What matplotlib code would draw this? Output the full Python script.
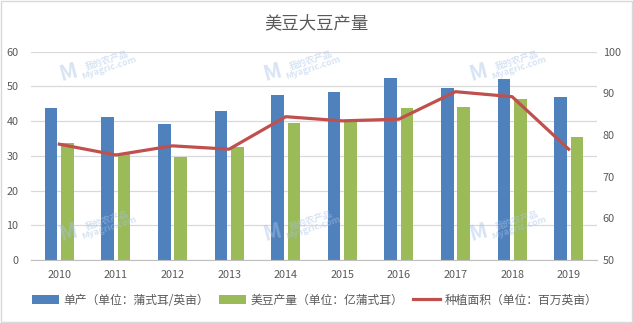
import numpy as np
import matplotlib.pyplot as plt
from matplotlib.patches import Rectangle

plt.rcParams['font.family'] = ['Noto Sans CJK SC', 'DejaVu Sans']

# data
years = ['2010', '2011', '2012', '2013', '2014', '2015', '2016', '2017', '2018', '2019']
yield_bu = [43.9, 41.3, 39.2, 43.0, 47.5, 48.5, 52.5, 49.6, 52.1, 46.9]        # 蒲式耳/英亩
production = [33.8, 30.4, 29.8, 32.6, 39.5, 40.0, 43.7, 44.2, 46.3, 35.5]     # 亿蒲式耳
area = [77.8, 75.2, 77.4, 76.6, 84.4, 83.4, 83.8, 90.4, 89.2, 76.6]           # 百万英亩

BLUE = '#4F81BD'
GREEN = '#9BBB59'
RED = '#C0504D'
TXT = '#595959'

fig = plt.figure(figsize=(6.33, 3.23), dpi=100)
ax = fig.add_axes([31 / 633, 1 - 260 / 323, 566 / 633, 208.3 / 323])
ax2 = ax.twinx()

x = np.arange(len(years))
w = 0.22
ax.bar(x - 0.145, yield_bu, w, color=BLUE, zorder=2, label='单产（单位：蒲式耳/英亩）')
ax.bar(x + 0.145, production, w, color=GREEN, zorder=2, label='美豆产量（单位：亿蒲式耳）')
ax2.plot(x, area, color=RED, lw=2.3, zorder=3, label='种植面积（单位：百万英亩）')

ax.set_xlim(-0.5, len(years) - 0.5)
ax.set_ylim(0, 60)
ax.set_yticks(range(0, 61, 10))
ax2.set_ylim(50, 100)
ax2.set_yticks(range(50, 101, 10))
ax.set_xticks(x)
ax.set_xticklabels(years)

ax.grid(axis='y', color='#D9D9D9', lw=0.9, zorder=0)
ax.set_axisbelow(True)
for a in (ax, ax2):
    for s in a.spines.values():
        s.set_visible(False)
    a.tick_params(length=0, colors=TXT, labelsize=7.8)
ax.spines['bottom'].set_visible(True)
ax.spines['bottom'].set_color('#BFBFBF')
ax.tick_params(axis='x', pad=7)
ax.tick_params(axis='y', pad=9)
ax2.tick_params(axis='y', pad=4)

fig.text(0.5, 1 - 23 / 323, '美豆大豆产量', ha='center', va='center', fontsize=12.5, color=TXT)

# faint site watermarks: logo letter plus site name
for wx, wy in [(68, 72), (272, 72), (478, 72), (68, 232), (272, 232), (478, 232)]:
    fig.text(wx / 633, 1 - wy / 323, 'M', ha='center', va='center', fontsize=15,
             color='#A9C3E6', alpha=0.45, rotation=15, fontweight='bold')
    fig.text((wx + 40) / 633, 1 - (wy - 8) / 323, '我的农产品\nMyagric.com', ha='center',
             va='center', fontsize=6.5, color='#A9C3E6', alpha=0.45, rotation=18,
             linespacing=0.9, fontweight='bold')

h1, l1 = ax.get_legend_handles_labels()
h2, l2 = ax2.get_legend_handles_labels()
fig.legend(h1 + h2, l1 + l2, loc='center', bbox_to_anchor=(0.497, 1 - 300 / 323), ncol=3,
           frameon=False, fontsize=8.5, labelcolor=TXT, handlelength=2.3, handleheight=0.8,
           columnspacing=0.8, handletextpad=0.4)

fig.patches.append(Rectangle((0.001, 0.002), 0.997, 0.995, transform=fig.transFigure,
                             fill=False, edgecolor='#D9D9D9', lw=1))

fig.savefig('out.png', dpi=100, facecolor='white')
